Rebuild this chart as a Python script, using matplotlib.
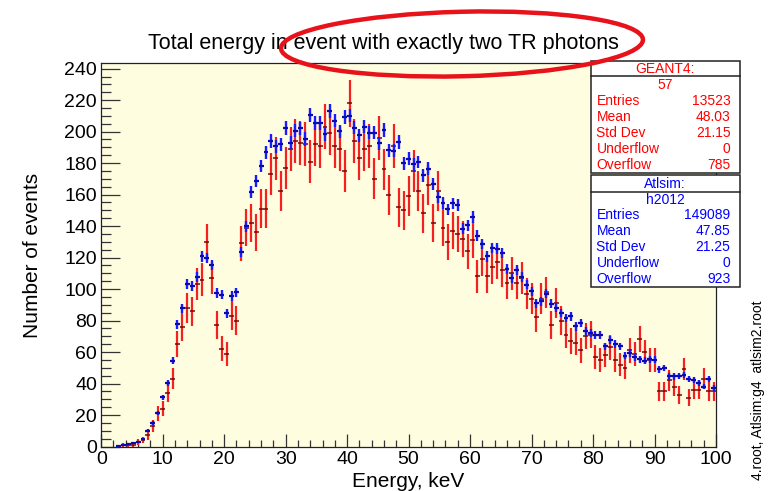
import numpy as np
import matplotlib
matplotlib.use("Agg")
import matplotlib.pyplot as plt
from matplotlib.patches import Ellipse, Rectangle
from matplotlib.lines import Line2D
from matplotlib.ticker import MultipleLocator

plt.rcParams["font.family"] = ["Liberation Sans", "DejaVu Sans"]

# Histogram binning: 125 bins of 0.8 keV between 0 and 100 keV
bin_edges = np.linspace(0.0, 100.0, 126)

# GEANT4 histogram "57" (raw counts per bin)
geant4_counts = [
    0, 0, 0, 0, 1, 1, 1, 3, 4, 7,
    13, 21, 24, 34, 43, 65, 76, 88, 86, 103,
    106, 130, 107, 77, 62, 59, 83, 80, 129, 139,
    142, 136, 151, 151, 173, 183, 162, 177, 189, 194,
    193, 192, 181, 192, 191, 203, 199, 191, 189, 175,
    218, 194, 183, 189, 191, 170, 196, 176, 160, 191,
    152, 150, 159, 175, 162, 148, 166, 142, 162, 139,
    130, 137, 135, 132, 124, 131, 108, 119, 108, 114,
    117, 112, 104, 110, 104, 107, 97, 94, 82, 94,
    98, 77, 91, 80, 71, 67, 66, 61, 70, 71,
    57, 55, 58, 63, 55, 52, 50, 61, 59, 68,
    60, 55, 55, 35, 35, 42, 38, 33, 49, 31,
    36, 36, 43, 35, 35,
]

# Atlsim histogram "h2012", scaled to the GEANT4 sample
atlsim_scaled = [
    0, 0, 0, 0.5, 1.0, 1.5, 2.5, 3.0, 4.5, 10.0,
    15.1, 21.1, 31.3, 40.2, 54.4, 77.5, 87.9, 103.2, 102.1, 107.5,
    120.8, 119.8, 115.1, 97.5, 96.4, 84.6, 95.6, 98.0, 123.4, 139.8,
    161.4, 168.7, 178.1, 187.0, 194.0, 190.6, 192.0, 202.3, 192.8, 200.6,
    202.0, 195.3, 210.7, 205.4, 205.4, 198.6, 213.2, 207.0, 200.2, 209.5,
    210.2, 202.6, 197.7, 203.2, 199.4, 199.4, 192.6, 200.9, 188.3, 187.7,
    193.4, 179.9, 182.8, 179.2, 180.7, 172.2, 176.5, 166.5, 158.6, 154.8,
    150.6, 154.4, 153.3, 138.3, 140.5, 145.8, 134.0, 128.7, 120.8, 126.1,
    125.7, 123.0, 113.0, 107.0, 111.9, 107.5, 102.8, 98.6, 91.1, 92.2,
    97.1, 90.7, 88.0, 84.8, 81.6, 82.6, 76.3, 78.4, 73.1, 72.3,
    70.8, 71.0, 63.6, 67.4, 65.3, 63.6, 57.8, 59.3, 56.8, 55.5,
    54.6, 55.5, 55.1, 49.1, 49.8, 44.9, 44.5, 44.9, 45.5, 42.8,
    42.3, 40.2, 38.1, 42.8, 37.0,
]

# Statistics boxes
geant4_title, geant4_name = "GEANT4:", "57"
geant4_stats = [("Entries", "13523"), ("Mean", "48.03"), ("Std Dev", "21.15"),
                ("Underflow", "0"), ("Overflow", "785")]
atlsim_title, atlsim_name = "Atlsim:", "h2012"
atlsim_stats = [("Entries", "149089"), ("Mean", "47.85"), ("Std Dev", "21.25"),
                ("Underflow", "0"), ("Overflow", "923")]

title = "Total energy in event with exactly two TR photons"
x_label = "Energy, keV"
y_label = "Number of events"
file_note = "4.root, Atlsim:g4  atlsim2.root"

W, H = 768, 491
fig = plt.figure(figsize=(W / 100, H / 100), dpi=100)


def fx(px):
    return px / W


def fy(py):
    return 1 - py / H


ax_left, ax_right, ax_top, ax_bottom = 101.2, 716.0, 63.3, 446.5
ax = fig.add_axes([fx(ax_left), fy(ax_bottom), fx(ax_right - ax_left),
                   (ax_bottom - ax_top) / H])
ax.set_facecolor("#fffde0")

centres = 0.5 * (bin_edges[:-1] + bin_edges[1:])
half_w = 0.5 * np.diff(bin_edges)

g4 = np.asarray(geant4_counts, dtype=float)
g4_err = np.sqrt(g4)
norm = int(geant4_stats[0][1]) / int(atlsim_stats[0][1])
at = np.asarray(atlsim_scaled, dtype=float)
at_err = np.sqrt(at * norm)


def draw_hist(vals, errs, vcol, hcol, vlw, hlw, z):
    m = vals > 0
    ax.vlines(centres[m], vals[m] - errs[m], vals[m] + errs[m],
              colors=vcol, lw=vlw, zorder=z)
    ax.hlines(vals[m], centres[m] - half_w[m], centres[m] + half_w[m],
              colors=hcol, lw=hlw, zorder=z + 0.1)


draw_hist(g4, g4_err, "#f52020", "#700808", 1.6, 1.1, 2)
draw_hist(at, at_err, "#1a1aff", "#0a0ab0", 1.7, 1.6, 3)

ax.set_xlim(0, 100)
ax.set_ylim(0, 243.4)
ax.xaxis.set_major_locator(MultipleLocator(10))
ax.xaxis.set_minor_locator(MultipleLocator(2))
ax.yaxis.set_major_locator(MultipleLocator(20))
ax.yaxis.set_minor_locator(MultipleLocator(5))
ax.tick_params(axis="x", which="major", direction="in", length=9.2, width=0.9,
               color="#333333", labelsize=14, pad=3)
ax.tick_params(axis="x", which="minor", direction="in", length=4.7, width=0.9,
               color="#333333")
ax.tick_params(axis="y", which="major", direction="in", length=13.7, width=0.9,
               color="#333333", labelsize=14, pad=3)
ax.tick_params(axis="y", which="minor", direction="in", length=7.2, width=0.9,
               color="#333333")
for s in ax.spines.values():
    s.set_linewidth(0.9)
    s.set_color("#222222")

fig.text(fx(383), fy(44), title, ha="center", va="center", fontsize=15.5)
fig.text(fx(408.5), fy(472), x_label, ha="center", va="top", fontsize=15)
fig.text(fx(33), fy(255), y_label, ha="center", va="center", rotation=90,
         fontsize=15)
fig.text(fx(758), fy(300), file_note, ha="center", va="top", rotation=90,
         fontsize=10)


def stats_box(top, bottom, head_line, title_txt, name_txt, rows, color):
    left, right = 591, 739.5
    fig.add_artist(Rectangle((fx(left), fy(bottom)), fx(right - left),
                             (bottom - top) / H, transform=fig.transFigure,
                             facecolor="white", edgecolor="#222222", lw=1.1,
                             zorder=10))
    fig.add_artist(Line2D([fx(left), fx(right)], [fy(head_line)] * 2,
                          transform=fig.transFigure, color="#222222", lw=1.1,
                          zorder=11))
    cx = 0.5 * (left + right)
    fig.text(fx(cx), fy(top + 8.3), title_txt, ha="center", va="center",
             color=color, fontsize=10, zorder=12)
    fig.text(fx(cx), fy(top + 24.3), name_txt, ha="center", va="center",
             color=color, fontsize=10, zorder=12)
    for i, (lab, val) in enumerate(rows):
        yy = top + 40 + 16 * i
        fig.text(fx(596.5), fy(yy), lab, ha="left", va="center", color=color,
                 fontsize=10, zorder=12)
        fig.text(fx(730.5), fy(yy), val, ha="right", va="center", color=color,
                 fontsize=10, zorder=12)


stats_box(60.7, 172.7, 75.5, geant4_title, geant4_name, geant4_stats, "#ff0000")
stats_box(175.3, 287.3, 191.5, atlsim_title, atlsim_name, atlsim_stats, "#0000ff")

# highlight drawn around part of the title
fig.add_artist(Ellipse((4.62, (H - 44) / 100), 3.62, 0.645, angle=1.4,
                       transform=fig.dpi_scale_trans, fill=False,
                       edgecolor="#e8121a", lw=3.2, zorder=20))

fig.savefig("out.png", dpi=100)
